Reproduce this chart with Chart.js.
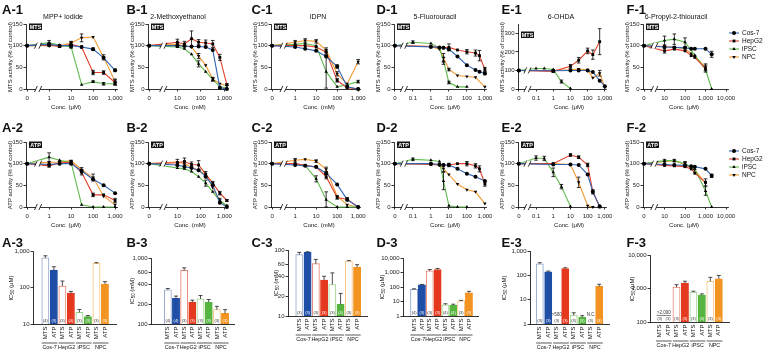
<!DOCTYPE html>
<html><head><meta charset="utf-8">
<script src="https://cdn.jsdelivr.net/npm/chart.js@4.4.0/dist/chart.umd.min.js"></script>
<style>
html,body{margin:0;padding:0;background:#fff;}
body{width:765px;height:353px;position:relative;overflow:hidden;font-family:"Liberation Sans",Arial,sans-serif;color:#111;}
canvas{position:absolute;}
.t{position:absolute;white-space:nowrap;line-height:1;}
.pl{font-weight:bold;font-size:13px;}
.ti{font-size:7px;transform:translate(-50%,-50%);}
.ax{font-size:6px;transform:translate(-50%,-50%);}
.ay{font-size:6px;transform:translate(-50%,-50%) rotate(-90deg);}
sub{font-size:4.5px;vertical-align:-1px;}
</style></head><body>
<script>
// ---------------- categories ----------------
const cellLines = ['Cos-7','HepG2','iPSC','NPC'];
const assays = ['MTS','ATP'];
const compounds = ['MPP+ iodide','2-Methoxyethanol','IDPN','5-Fluorouracil','6-OHDA','6-Propyl-2-thiouracil'];
const units = ['μM','mM','mM','μM','μM','μM'];
const letters = ['A','B','C','D','E','F'];

// ---------------- concentrations ----------------
const concA = [0,1,3,10,30,100,300,1000];
const concB = [0,10,20,40,80,160,320,640,1280];
const concC = [0,1,3,10,30,100,300,1000];
const concD = [0,0.1,1,3,5,10,30,100,300,500,1000];
const concE = [0,0.1,0.3,1,3,10,30,100,200,500,1000];
const concF = [0,10,30,100,200,300,1000,2000];

// ---------------- MTS (row 1) ----------------
const A1_cos7 = [100,103,100,100,97,92,72,43],  A1_cos7_e = [0,3,0,3,0,3,0,3];
const A1_hepg2 = [100,101,98,103,97,38,38,15],  A1_hepg2_e = [0,3,2,6,0,5,4,6];
const A1_ipsc = [100,107,101,97,10,17,12,12],   A1_ipsc_e = [0,5,0,3,0,2,3,3];
const A1_npc = [100,100,100,106,118,120,73,17], A1_npc_e = [0,0,0,4,9,0,6,6];

const B1_cos7 = [100,100,99,98,98,97,90,3,0],        B1_cos7_e = [0,0,0,0,0,0,0,0,0];
const B1_hepg2 = [100,108,104,116,108,106,104,73,10], B1_hepg2_e = [0,7,6,18,6,7,8,7,2];
const B1_ipsc = [100,97,93,80,58,40,22,5,3],          B1_ipsc_e = [0,0,0,0,7,0,4,0,0];
const B1_npc = [100,103,100,97,76,55,23,12,8],        B1_npc_e = [0,4,0,0,6,0,4,0,0];

const C1_cos7 = [100,97,93,88,75,52,5,0],    C1_cos7_e = [0,0,0,0,0,4,0,0];
const C1_hepg2 = [100,100,100,97,85,20,3,0], C1_hepg2_e = [0,0,0,0,5,4,0,0];
const C1_ipsc = [100,103,105,100,40,5,10,17], C1_ipsc_e = [0,0,0,0,38,0,0,3];
const C1_npc = [100,108,112,110,90,35,12,63], C1_npc_e = [0,4,4,4,5,5,0,5];

const D1_cos7 = [100,null,97,96,95,92,75,55,44,40,36],   D1_cos7_e = [0,0,0,0,0,0,0,0,0,0,3];
const D1_hepg2 = [100,null,98,96,95,96,90,86,83,77,45],  D1_hepg2_e = [0,0,0,0,0,8,0,5,7,12,5];
const D1_ipsc = [100,108,105,95,65,15,5,5,null,null,null], D1_ipsc_e = [0,3,0,0,8,3,0,0,0,0,0];
const D1_npc = [100,null,98,92,72,45,31,29,27,null,5],   D1_npc_e = [0,0,0,0,10,3,0,0,0,0,0];

const E1_cos7 = [100,null,null,98,null,100,100,100,92,45,15],  E1_cos7_e = [0,0,0,0,0,0,0,0,0,0,0];
const E1_hepg2 = [100,null,null,95,null,122,155,205,185,255,null], E1_hepg2_e = [0,0,0,5,0,10,15,15,25,70,0];
const E1_ipsc = [100,110,110,105,40,3,null,null,null,null,null],   E1_ipsc_e = [0,0,0,0,8,0,0,0,0,0,0];
const E1_npc = [100,null,null,100,null,103,108,103,60,85,8],     E1_npc_e = [0,0,0,0,0,0,0,0,0,15,0];

const F1_cos7 = [100,97,96,95,93,93,93,80],     F1_cos7_e = [0,0,0,0,0,0,0,7];
const F1_hepg2 = [100,88,92,88,77,73,47,null],  F1_hepg2_e = [0,5,0,0,0,0,8,0];
const F1_ipsc = [100,112,115,108,null,78,45,0], F1_ipsc_e = [0,10,12,10,0,0,0,0];
const F1_npc = [100,98,97,93,82,75,50,null],    F1_npc_e = [0,0,0,0,0,0,8,0];

// ---------------- ATP (row 2) ----------------
const A2_cos7 = [100,98,100,100,83,64,50,32],   A2_cos7_e = [0,0,0,0,0,0,0,0];
const A2_hepg2 = [100,95,102,103,80,28,28,15],  A2_hepg2_e = [0,3,3,3,6,4,0,5];
const A2_ipsc = [100,115,108,103,5,0,0,0],      A2_ipsc_e = [0,10,0,4,0,0,0,0];
const A2_npc = [100,103,104,107,86,68,25,5],    A2_npc_e = [0,0,0,0,5,8,0,0];

const B2_cos7 = [100,97,93,90,85,70,50,10,0],     B2_cos7_e = [0,0,0,0,0,0,0,0,0];
const B2_hepg2 = [100,102,105,98,97,76,55,32,15], B2_hepg2_e = [0,8,8,6,10,6,4,4,2];
const B2_ipsc = [100,90,88,82,70,55,35,15,3],     B2_ipsc_e = [0,0,0,0,0,7,0,5,0];
const B2_npc = [100,104,100,92,85,75,45,15,3],    B2_npc_e = [0,0,0,0,0,0,0,0,0];

const C2_cos7 = [100,97,95,93,78,52,17,0],    C2_cos7_e = [0,0,0,0,0,0,0,0];
const C2_hepg2 = [100,100,96,92,70,22,18,0],  C2_hepg2_e = [0,0,0,0,5,4,4,0];
const C2_ipsc = [100,100,96,65,17,0,0,0],     C2_ipsc_e = [0,0,0,7,18,0,0,0];
const C2_npc = [100,108,110,106,87,25,5,0],   C2_npc_e = [0,4,0,3,5,0,0,0];

const D2_cos7 = [100,null,100,98,97,97,88,77,70,null,60],  D2_cos7_e = [0,0,0,0,0,0,0,0,0,0,0];
const D2_hepg2 = [100,null,98,97,97,97,100,100,95,88,53], D2_hepg2_e = [0,0,0,0,0,4,0,5,5,7,5];
const D2_ipsc = [100,110,108,105,60,3,0,0,null,null,null], D2_ipsc_e = [0,3,0,0,20,0,0,0,0,0,0];
const D2_npc = [100,null,100,97,88,75,53,40,35,null,8],    D2_npc_e = [0,0,0,0,6,0,0,0,0,0,0];

const E2_cos7 = [100,null,null,98,null,98,97,75,35,2,null],  E2_cos7_e = [0,0,0,0,0,0,0,0,0,0,0];
const E2_hepg2 = [100,null,null,100,null,120,115,97,35,0,null], E2_hepg2_e = [0,0,0,0,0,3,3,4,5,0,0];
const E2_ipsc = [100,113,112,80,47,1,null,null,null,null,null], E2_ipsc_e = [0,5,5,10,5,0,0,0,0,0,0];
const E2_npc = [100,null,null,100,null,98,57,3,0,null,null],  E2_npc_e = [0,0,0,0,0,0,12,0,0,0,0];

const F2_cos7 = [100,98,97,96,94,93,88,72],     F2_cos7_e = [0,0,0,0,0,0,0,4];
const F2_hepg2 = [100,96,95,93,88,78,57,null],  F2_hepg2_e = [0,0,0,0,0,0,8,0];
const F2_ipsc = [100,107,107,100,null,88,37,0], F2_ipsc_e = [0,3,3,5,0,0,10,0];
const F2_npc = [100,105,107,98,null,85,55,null], F2_npc_e = [0,0,0,5,0,0,0,0];

// ---------------- IC50 (row 3), order: Cos-7 MTS, Cos-7 ATP, HepG2 MTS, HepG2 ATP, iPSC MTS, iPSC ATP, NPC MTS, NPC ATP ----------------
const A3_ic50 = [650,300,110,70,21,16,460,125],        A3_err = [90,70,40,8,4,1,20,20];
const B3_ic50 = [330,245,650,215,240,215,165,145],     B3_err = [15,20,60,15,30,20,20,20];
const C3_ic50 = [85,92,62,35,30,15,68,55],             C3_err = [7,2,10,5,15,7,1,5];
const D3_ic50 = [70,140,1300,1600,6,5.5,11,40],        D3_err = [5,10,300,300,1,1,1,10];
const E3_ic50 = [300,140,null,190,2.3,1.9,null,35],    E3_err = [30,10,0,15,0.6,0.3,0,8];
const F3_ic50 = [null,null,1100,1450,780,640,1650,1950], F3_err = [0,0,200,200,50,50,500,500];
const A3_n = ['(4)','(3)','(3)','(4)','(3)','(3)','(3)','(3)'];
const B3_n = ['(4)','(4)','(3)','(3)','(3)','(3)','(3)','(3)'];
const C3_n = ['(3)','(3)','(3)','(3)','(3)','(4)','(3)','(3)'];
const D3_n = ['(4)','(3)','(3)','(3)','(4)','(4)','(3)','(3)'];
const E3_n = ['(3)','(3)','(3)','(3)','(3)','(3)','(3)','(3)'];
const F3_n = ['(3)','(3)','(3)','(3)','(3)','(3)','(3)','(3)'];

// ---------------- styles ----------------
const LINE_COL = ['#3264b4','#e1412d','#60b94c','#f29c36'];
const BAR_COL = ['#1f4ea6','#e5391f','#55b540','#f39320'];
const BAR_HOLLOW = ['#8ea4cc','#e8806f','#97d083','#f5c27e'];
const MARK = ['circle','rect','triangle','triangle'];
const MROT = [0,0,0,180];
const FONT = '"Liberation Sans", Arial, sans-serif';
Chart.defaults.font.family = FONT;
Chart.defaults.color = '#222';

function fmt(v){ return Number(v.toPrecision(6)).toLocaleString('en-US'); }
function makeCanvas(x,y,w,h){
  const c=document.createElement('canvas'); c.width=w; c.height=h;
  c.style.left=x+'px'; c.style.top=y+'px'; c.style.width=w+'px'; c.style.height=h+'px';
  document.body.appendChild(c); return c;
}
function txt(cls,x,y,html){
  const d=document.createElement('div'); d.className='t '+cls;
  d.style.left=x+'px'; d.style.top=y+'px'; d.innerHTML=html; document.body.appendChild(d); return d;
}

// ---------------- plugins ----------------
const errPlugin = { id:'eb', afterDatasetsDraw(chart){
  const ctx=chart.ctx, ys=chart.scales.y;
  ctx.save(); ctx.strokeStyle='#000'; ctx.lineWidth=0.8;
  chart.data.datasets.forEach((ds,i)=>{
    const meta=chart.getDatasetMeta(i);
    ds.data.forEach((d,j)=>{
      if(!d||!d.e) return;
      const x=meta.data[j].x;
      const y1=ys.getPixelForValue(d.y+d.e), y2=ys.getPixelForValue(Math.max(0,d.y-d.e));
      ctx.beginPath();
      ctx.moveTo(x,y1); ctx.lineTo(x,y2);
      ctx.moveTo(x-1.8,y1); ctx.lineTo(x+1.8,y1);
      ctx.moveTo(x-1.8,y2); ctx.lineTo(x+1.8,y2);
      ctx.stroke();
    });
  });
  ctx.restore();
}};
const brkPlugin = { id:'brk', afterDatasetsDraw(chart,a,o){
  if(o.at===undefined) return;
  const ctx=chart.ctx, xs=chart.scales.x, ys=chart.scales.y;
  const bx=xs.getPixelForValue(o.at);
  [chart.chartArea.bottom, ys.getPixelForValue(100)].forEach(y=>{
    ctx.save();
    ctx.fillStyle='#fff'; ctx.fillRect(bx-2.2,y-3,4.4,6);
    ctx.strokeStyle='#000'; ctx.lineWidth=0.8; ctx.beginPath();
    ctx.moveTo(bx-3.6,y+3); ctx.lineTo(bx-0.8,y-3);
    ctx.moveTo(bx+0.8,y+3); ctx.lineTo(bx+3.6,y-3);
    ctx.stroke(); ctx.restore();
  });
}};
const badgePlugin = { id:'badge', afterDraw(chart,a,o){
  if(!o.text) return;
  const ctx=chart.ctx, L=chart.chartArea.left+3, T=chart.chartArea.top+(o.off||0)-0.5;
  ctx.save(); ctx.fillStyle='#151515'; ctx.fillRect(L,T,13,6.5);
  ctx.fillStyle='#fff'; ctx.font='bold 5.5px '+FONT; ctx.textAlign='center'; ctx.textBaseline='middle';
  ctx.fillText(o.text,L+6.5,T+3.5); ctx.restore();
}};
const legendPlugin = { id:'lg', afterDraw(chart,a,o){
  if(!o.show) return;
  const ctx=chart.ctx;
  cellLines.forEach((name,i)=>{
    const y=o.y0+i*o.dy;
    ctx.save();
    ctx.strokeStyle=LINE_COL[i]; ctx.lineWidth=1.1;
    ctx.beginPath(); ctx.moveTo(o.x0,y); ctx.lineTo(o.x0+10,y); ctx.stroke();
    ctx.fillStyle='#000'; ctx.strokeStyle='#000';
    Chart.helpers.drawPoint(ctx,{pointStyle:MARK[i],rotation:MROT[i],radius:2,borderWidth:0},o.x0+5,y);
    ctx.fillStyle='#111'; ctx.font='6.5px '+FONT; ctx.textBaseline='middle'; ctx.textAlign='left';
    ctx.fillText(name,o.x0+13,y+0.5);
    ctx.restore();
  });
}};
const barPlugin = { id:'bd', afterDraw(chart,a,o){
  const ctx=chart.ctx, xs=chart.scales.x, ys=chart.scales.y, base=chart.chartArea.bottom;
  const ds=chart.data.datasets[0];
  ctx.save();
  ds.data.forEach(d=>{
    if(!d.e) return;
    const x=xs.getPixelForValue(d.x), yt=ys.getPixelForValue(d.y), ye=ys.getPixelForValue(d.y+d.e);
    ctx.strokeStyle='#222'; ctx.lineWidth=0.8; ctx.beginPath();
    ctx.moveTo(x,yt); ctx.lineTo(x,ye); ctx.moveTo(x-2,ye); ctx.lineTo(x+2,ye); ctx.stroke();
  });
  ctx.font='4px '+FONT; ctx.textAlign='center'; ctx.textBaseline='middle';
  o.n.forEach((s,i)=>{
    const x=xs.getPixelForValue(i);
    ctx.fillStyle=(i%2===1 && o.vals[i]!=null)?'#fff':'#333';
    ctx.fillText(s,x,base-2.8);
  });
  (o.notes||[]).forEach(nt=>{
    const x1=xs.getPixelForValue(nt.i0), x2=xs.getPixelForValue(nt.i1);
    ctx.fillStyle='#333'; ctx.font='4.5px '+FONT;
    ctx.fillText(nt.text,(x1+x2)/2,base-9);
    if(nt.i1>nt.i0){ ctx.strokeStyle='#333'; ctx.lineWidth=0.6; ctx.beginPath(); ctx.moveTo(x1-3,base-6.5); ctx.lineTo(x2+3,base-6.5); ctx.stroke(); }
  });
  ctx.fillStyle='#111'; ctx.font='5.4px '+FONT; ctx.strokeStyle='#111'; ctx.lineWidth=0.7;
  cellLines.forEach((name,g)=>{
    const x1=xs.getPixelForValue(2*g)-o.bw/2, x2=xs.getPixelForValue(2*g+1)+o.bw/2;
    ctx.beginPath(); ctx.moveTo(x1,base+19); ctx.lineTo(x2,base+19); ctx.stroke();
    ctx.fillText(name,(x1+x2)/2,base+23.5);
  });
  ctx.restore();
}};

// ---------------- line panel geometry ----------------
const COLS = [
 {zero:-1,  xmin:-1.05, xmax:3.1,  left:26,  dec:22,   ticks:[-1,0,1,2,3],     brk:-0.5, tx:63,  xtx:66},
 {zero:-0.2,xmin:-0.25, xmax:3.15, left:148, dec:23.5, ticks:[-0.2,1,2,3],     brk:0.4,  tx:178, xtx:190},
 {zero:-1.1,xmin:-1.15, xmax:3.1,  left:271, dec:21,   ticks:[-1.1,0,1,2,3],   brk:-0.55,tx:318, xtx:319},
 {zero:-2,  xmin:-2.05, xmax:3.1,  left:394, dec:18,   ticks:[-2,-1,0,1,2,3],  brk:-1.5, tx:435, xtx:445},
 {zero:-2,  xmin:-2.05, xmax:3.1,  left:518, dec:17.2, ticks:[-2,-1,0,1,2,3],  brk:-1.5, tx:561, xtx:569},
 {zero:0,   xmin:-0.05, xmax:4.1,  left:643, dec:20.5, ticks:[0,1,2,3,4],      brk:0.5,  tx:676, xtx:684}
];
const ROWS = [
 {top:24, bottom:89, assay:'MTS', ylab:'MTS activity (% of control)', lab:9.5},
 {top:142, bottom:207, assay:'ATP', ylab:'ATP activity (% of control)', lab:127}
];
const LINE_DATA = [
 [
  {conc:concA, s:[[A1_cos7,A1_cos7_e],[A1_hepg2,A1_hepg2_e],[A1_ipsc,A1_ipsc_e],[A1_npc,A1_npc_e]]},
  {conc:concB, s:[[B1_cos7,B1_cos7_e],[B1_hepg2,B1_hepg2_e],[B1_ipsc,B1_ipsc_e],[B1_npc,B1_npc_e]]},
  {conc:concC, s:[[C1_cos7,C1_cos7_e],[C1_hepg2,C1_hepg2_e],[C1_ipsc,C1_ipsc_e],[C1_npc,C1_npc_e]]},
  {conc:concD, s:[[D1_cos7,D1_cos7_e],[D1_hepg2,D1_hepg2_e],[D1_ipsc,D1_ipsc_e],[D1_npc,D1_npc_e]]},
  {conc:concE, s:[[E1_cos7,E1_cos7_e],[E1_hepg2,E1_hepg2_e],[E1_ipsc,E1_ipsc_e],[E1_npc,E1_npc_e]], ymax:350, yticks:[0,100,200,300], boff:8},
  {conc:concF, s:[[F1_cos7,F1_cos7_e],[F1_hepg2,F1_hepg2_e],[F1_ipsc,F1_ipsc_e],[F1_npc,F1_npc_e]]}
 ],
 [
  {conc:concA, s:[[A2_cos7,A2_cos7_e],[A2_hepg2,A2_hepg2_e],[A2_ipsc,A2_ipsc_e],[A2_npc,A2_npc_e]]},
  {conc:concB, s:[[B2_cos7,B2_cos7_e],[B2_hepg2,B2_hepg2_e],[B2_ipsc,B2_ipsc_e],[B2_npc,B2_npc_e]]},
  {conc:concC, s:[[C2_cos7,C2_cos7_e],[C2_hepg2,C2_hepg2_e],[C2_ipsc,C2_ipsc_e],[C2_npc,C2_npc_e]]},
  {conc:concD, s:[[D2_cos7,D2_cos7_e],[D2_hepg2,D2_hepg2_e],[D2_ipsc,D2_ipsc_e],[D2_npc,D2_npc_e]]},
  {conc:concE, s:[[E2_cos7,E2_cos7_e],[E2_hepg2,E2_hepg2_e],[E2_ipsc,E2_ipsc_e],[E2_npc,E2_npc_e]]},
  {conc:concF, s:[[F2_cos7,F2_cos7_e],[F2_hepg2,F2_hepg2_e],[F2_ipsc,F2_ipsc_e],[F2_npc,F2_npc_e]]}
 ]
];

function linePanel(r,c){
  const R=ROWS[r], C=COLS[c], D=LINE_DATA[r][c];
  const colX=c*125;
  const plotRight=C.left+(C.xmax-C.xmin)*C.dec;
  const top=R.top-5, height=R.bottom+14-top;
  const width=(c===5)?(765-colX):Math.round(plotRight-colX+10);
  const padR=width-(plotRight-colX);
  const cv=makeCanvas(colX,top,width,height);
  const ymax=D.ymax||150, yticks=D.yticks||[0,50,100,150];
  const mapX=v=>v===0?C.zero:Math.log10(v);
  const datasets=D.s.map((pair,i)=>({
    label:cellLines[i],
    data:D.conc.map((cv2,j)=>pair[0][j]==null?null:{x:mapX(cv2),y:pair[0][j],e:pair[1][j]}).filter(Boolean),
    borderColor:LINE_COL[i], borderWidth:1.1, tension:0, fill:false, clip:false,
    pointStyle:MARK[i], rotation:MROT[i], pointRadius:2, pointBorderWidth:0,
    pointBackgroundColor:'#000', pointBorderColor:'#000'
  }));
  const gridOpt={display:true,drawOnChartArea:false,drawTicks:true,tickLength:2.5,color:'#000',lineWidth:0.8};
  const borderOpt={display:true,color:'#000',width:0.8};
  new Chart(cv,{
    type:'line', data:{datasets},
    options:{
      responsive:false, animation:false, devicePixelRatio:1, events:[],
      layout:{padding:{top:5,right:padR,left:0,bottom:0}},
      plugins:{legend:{display:false},tooltip:{enabled:false},
        brk:{at:C.brk}, badge:{text:R.assay,off:D.boff||0},
        lg:{show:c===5,x0:104,y0:14,dy:8}},
      scales:{
        x:{type:'linear',min:C.xmin,max:C.xmax,
           afterBuildTicks:s=>{s.ticks=C.ticks.map(v=>({value:v}));},
           afterFit:s=>{s.height=14;},
           ticks:{callback:v=>v===C.zero?'0':fmt(Math.pow(10,v)),autoSkip:false,maxRotation:0,minRotation:0,font:{size:6},padding:3.5,color:'#222'},
           grid:gridOpt, border:borderOpt},
        y:{type:'linear',min:0,max:ymax,
           afterBuildTicks:s=>{s.ticks=yticks.map(v=>({value:v}));},
           afterFit:s=>{s.width=C.left-colX;},
           ticks:{font:{size:6},padding:1,color:'#222'},
           grid:gridOpt, border:borderOpt}
      }
    },
    plugins:[errPlugin,brkPlugin,badgePlugin,legendPlugin]
  });
  txt('ay',C.left-16,(R.top+R.bottom)/2,R.ylab);
  txt('ax',C.xtx,R.bottom+18,'Conc. ('+units[c]+')');
  txt('pl',colX+(c===0?2:1.5),R.lab-6.4,letters[c]+'-'+(r+1));
  if(r===0) txt('ti',C.tx,16,compounds[c]);
}

// ---------------- bar panel geometry ----------------
const BARS = [
 {vals:A3_ic50, err:A3_err, n:A3_n, left:33,  top:251, bottom:324, c0:41.2,  s:9.73, right:116, ymin:10,  ymax:1000,  ticks:[10,100,1000], ytx:12},
 {vals:B3_ic50, err:B3_err, n:B3_n, left:151, top:258, bottom:324, c0:164.3, s:9.34, right:234, ymin:100, ymax:1000,  ticks:[100,200,400,600,1000], ytx:133},
 {vals:C3_ic50, err:C3_err, n:C3_n, left:288, top:250, bottom:316, c0:295.3, s:9.43, right:367, ymin:10,  ymax:100,   ticks:[10,20,40,60,100], ytx:277},
 {vals:D3_ic50, err:D3_err, n:D3_n, left:403, top:258, bottom:316, c0:410.3, s:8.96, right:478, ymin:1,   ymax:10000, ticks:[1,10,100,1000,10000], ytx:383},
 {vals:E3_ic50, err:E3_err, n:E3_n, left:530, top:251, bottom:324, c0:535.5, s:9.71, right:609, ymin:1,   ymax:1000,  ticks:[1,10,100,1000], ytx:505,
   notes:[{i0:2,i1:2,text:'>500'},{i0:6,i1:6,text:'N.C'}]},
 {vals:F3_ic50, err:F3_err, n:F3_n, left:650, top:255, bottom:322, c0:655.3, s:9.67, right:729, ymin:100, ymax:10000, ticks:[100,1000,10000], ytx:633,
   notes:[{i0:0,i1:1,text:'>2,000'}]}
];

function barPanel(c){
  const P=BARS[c], colX=c*125, bw=7.2;
  const top=P.top-8, width=Math.round(P.right+6-colX), height=353-top;
  const cv=makeCanvas(colX,top,width,height);
  const xmin=-(P.c0-P.left)/P.s, xmax=7+(P.right-(P.c0+7*P.s))/P.s;
  const data=P.vals.map((v,i)=>v==null?null:{x:i,y:v,e:P.err[i]}).filter(Boolean);
  const fillC=ctx=>{const i=ctx.raw?ctx.raw.x:0; return i%2===0?'#ffffff':BAR_COL[i>>1];};
  const lineC=ctx=>{const i=ctx.raw?ctx.raw.x:0; return i%2===0?BAR_HOLLOW[i>>1]:BAR_COL[i>>1];};
  const borderOpt={display:true,color:'#000',width:0.8};
  new Chart(cv,{
    type:'bar',
    data:{datasets:[{data, backgroundColor:fillC, borderColor:lineC, borderWidth:1, barThickness:bw, clip:false}]},
    options:{
      responsive:false, animation:false, devicePixelRatio:1, events:[],
      layout:{padding:{top:8,right:width-(P.right-colX),left:0,bottom:0}},
      plugins:{legend:{display:false},tooltip:{enabled:false},bd:{n:P.n,vals:P.vals,bw,notes:P.notes}},
      scales:{
        x:{type:'linear',min:xmin,max:xmax,
           afterBuildTicks:s=>{s.ticks=[0,1,2,3,4,5,6,7].map(v=>({value:v}));},
           afterFit:s=>{s.height=353-P.bottom;},
           ticks:{callback:v=>assays[v%2],autoSkip:false,minRotation:90,maxRotation:90,font:{size:6},padding:2.5,color:'#111'},
           grid:{display:false,drawTicks:false}, border:borderOpt},
        y:{type:'logarithmic',min:P.ymin,max:P.ymax,
           afterBuildTicks:s=>{s.ticks=P.ticks.map(v=>({value:v}));},
           afterFit:s=>{s.width=P.left-colX;},
           ticks:{callback:v=>fmt(v),font:{size:6},padding:1,color:'#222'},
           grid:{display:true,drawOnChartArea:false,drawTicks:true,tickLength:2.5,color:'#000',lineWidth:0.8},
           border:borderOpt}
      }
    },
    plugins:[barPlugin]
  });
  txt('ay',P.ytx,(P.top+P.bottom)/2,'IC<sub>50</sub> ('+units[c]+')');
  txt('pl',colX+(c===0?2:1.5),242-6.4,letters[c]+'-3');
}

for(let r=0;r<2;r++) for(let c=0;c<6;c++) linePanel(r,c);
for(let c=0;c<6;c++) barPanel(c);
</script>
</body></html>
